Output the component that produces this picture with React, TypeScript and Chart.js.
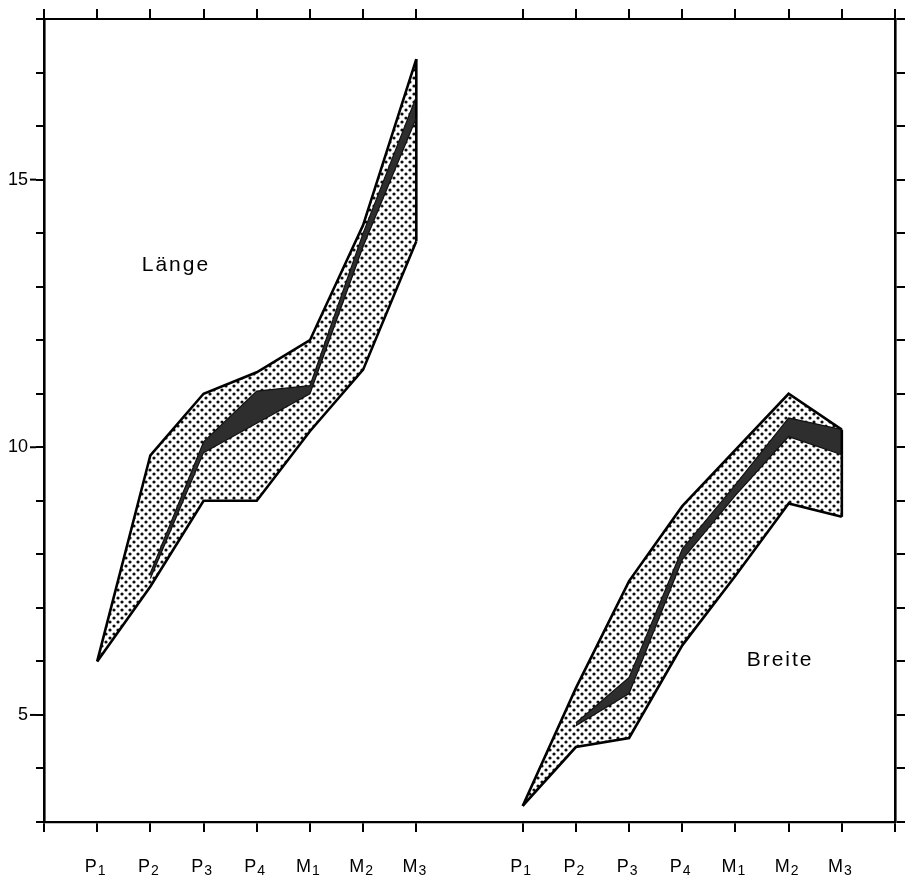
import React, { useEffect, useRef } from 'react';
import { Chart, registerables } from 'chart.js';

Chart.register(...registerables);

// ---- data ----
const categories = ['P1', 'P2', 'P3', 'P4', 'M1', 'M2', 'M3'];
const laengePos = [0, 1, 2, 3, 4, 5, 6];
const breitePos = [8, 9, 10, 11, 12, 13, 14];
const laengeMax = [6.0, 9.85, 11.0, 11.4, 12.0, 14.15, 17.25];
const laengeMin = [6.0, 7.4, 9.0, 9.0, 10.3, 11.45, 13.85];
const laengeMeanHigh = [null, 7.65, 10.1, 11.05, 11.15, 14.0, 16.55];
const laengeMeanLow = [null, 7.55, 9.9, 10.45, 11.0, 13.75, 16.15];
const breiteMax = [3.3, 5.5, 7.5, 8.9, 9.95, 11.0, 10.33];
const breiteMin = [3.3, 4.4, 4.57, 6.3, 7.6, 8.95, 8.7];
const breiteMeanHigh = [null, 4.85, 5.7, 8.1, 9.3, 10.55, 10.33];
const breiteMeanLow = [null, 4.8, 5.4, 7.9, 9.1, 10.2, 9.86];
const yTickLabels = [5, 10, 15];
const seriesLabels = ['Länge', 'Breite'];
const labelAnchors = [
  { x: 1.48, y: 13.4 },
  { x: 12.84, y: 6.03 },
];
const xMin = -1;
const xMax = 15;
const yMin = 3;
const yMax = 18;

const FONT = '"Liberation Sans", Arial, Helvetica, sans-serif';

function pts(pos: number[], vals: (number | null)[]) {
  const out: { x: number; y: number }[] = [];
  pos.forEach((p, i) => {
    const v = vals[i];
    if (v !== null && v !== undefined) out.push({ x: p, y: v });
  });
  return out;
}

function makeStipple(): CanvasPattern | string {
  const c = document.createElement('canvas');
  c.width = 8;
  c.height = 8;
  const g = c.getContext('2d');
  if (!g) return '#ccc';
  g.fillStyle = '#ffffff';
  g.fillRect(0, 0, 8, 8);
  g.fillStyle = '#0d0d0d';
  g.beginPath();
  g.arc(2, 2, 1.6, 0, Math.PI * 2);
  g.fill();
  g.beginPath();
  g.arc(6, 6, 1.6, 0, Math.PI * 2);
  g.fill();
  const p = g.createPattern(c, 'repeat');
  return p || '#ccc';
}

export default function App() {
  const ref = useRef<HTMLCanvasElement | null>(null);

  useEffect(() => {
    if (!ref.current) return;
    const stipple = makeStipple();
    const dark = '#2e2e2e';

    const lineBase = {
      pointRadius: 0,
      pointHoverRadius: 0,
      tension: 0,
    };

    const group = (
      pos: number[],
      mx: number[],
      mn: number[],
      mh: (number | null)[],
      ml: (number | null)[]
    ) => [
      {
        ...lineBase,
        data: pts(pos, mh),
        borderColor: '#111',
        borderWidth: 1.2,
        backgroundColor: dark,
        fill: '+1',
        order: 0,
      },
      {
        ...lineBase,
        data: pts(pos, ml),
        borderColor: '#111',
        borderWidth: 1.2,
        fill: false,
        order: 0,
      },
      {
        ...lineBase,
        data: pts(pos, mx),
        borderColor: '#000',
        borderWidth: 2.6,
        backgroundColor: stipple,
        fill: '+1',
        order: 1,
      },
      {
        ...lineBase,
        data: pts(pos, mn),
        borderColor: '#000',
        borderWidth: 2.6,
        fill: false,
        order: 1,
      },
      {
        ...lineBase,
        data: [
          { x: pos[pos.length - 1], y: mn[mn.length - 1] },
          { x: pos[pos.length - 1], y: mx[mx.length - 1] },
        ],
        borderColor: '#000',
        borderWidth: 2.6,
        fill: false,
        order: 1,
      },
    ];

    const datasets = [
      ...group(laengePos, laengeMax, laengeMin, laengeMeanHigh, laengeMeanLow),
      ...group(breitePos, breiteMax, breiteMin, breiteMeanHigh, breiteMeanLow),
    ];

    const xTickVals = [xMin, ...laengePos, ...breitePos, xMax];

    const gridOpts = {
      display: true,
      drawOnChartArea: false,
      drawTicks: true,
      tickLength: 10,
      color: '#000',
      tickWidth: 2,
      lineWidth: 2,
    };

    const annot = {
      id: 'annot',
      afterDraw(chart: any) {
        const { ctx, scales } = chart;
        const x = scales.x;
        const y = scales.y;
        ctx.save();
        ctx.fillStyle = '#000';
        ctx.textBaseline = 'alphabetic';
        // x category labels with subscripts
        [laengePos, breitePos].forEach((posArr) => {
          posArr.forEach((p, i) => {
            const cat = categories[i];
            const letter = cat[0];
            const sub = cat.slice(1);
            ctx.font = `18px ${FONT}`;
            const w1 = ctx.measureText(letter).width;
            ctx.font = `14px ${FONT}`;
            const w2 = ctx.measureText(sub).width;
            const cx = x.getPixelForValue(p) - 2;
            const left = cx - (w1 + 1 + w2) / 2;
            const base = x.top + 50;
            ctx.textAlign = 'left';
            ctx.font = `18px ${FONT}`;
            ctx.fillText(letter, left, base);
            ctx.font = `14px ${FONT}`;
            ctx.fillText(sub, left + w1 + 1, base + 3);
          });
        });
        // longer major ticks on the left axis
        ctx.strokeStyle = '#000';
        ctx.lineWidth = 2;
        yTickLabels.forEach((v) => {
          const py = y.getPixelForValue(v);
          ctx.beginPath();
          ctx.moveTo(y.right - 14, py);
          ctx.lineTo(y.right - 8, py);
          ctx.stroke();
        });
        // series labels
        ctx.font = `21px ${FONT}`;
        try {
          (ctx as any).letterSpacing = '2px';
        } catch (e) {
          /* ignore */
        }
        ctx.textAlign = 'center';
        ctx.textBaseline = 'middle';
        seriesLabels.forEach((t, i) => {
          const a = labelAnchors[i];
          ctx.fillText(t, x.getPixelForValue(a.x), y.getPixelForValue(a.y));
        });
        ctx.restore();
      },
    };

    const chart = new Chart(ref.current, {
      type: 'line',
      data: { datasets: datasets as any },
      plugins: [annot],
      options: {
        animation: false,
        responsive: false,
        maintainAspectRatio: false,
        devicePixelRatio: 1,
        layout: { padding: 0 },
        plugins: {
          legend: { display: false },
          tooltip: { enabled: false },
          filler: { propagate: false, drawTime: 'beforeDatasetsDraw' },
        },
        scales: {
          x: {
            type: 'linear',
            position: 'bottom',
            min: xMin,
            max: xMax,
            afterBuildTicks: (s: any) => {
              s.ticks = xTickVals.map((v) => ({ value: v }));
            },
            afterFit: (s: any) => {
              s.height = 56;
            },
            ticks: { display: false },
            grid: gridOpts as any,
            border: { display: true, color: '#000', width: 2.2 },
          },
          xTop: {
            type: 'linear',
            position: 'top',
            min: xMin,
            max: xMax,
            afterBuildTicks: (s: any) => {
              s.ticks = xTickVals.map((v) => ({ value: v }));
            },
            afterFit: (s: any) => {
              s.height = 19;
            },
            ticks: { display: false },
            grid: gridOpts as any,
            border: { display: true, color: '#000', width: 2 },
          },
          y: {
            type: 'linear',
            position: 'left',
            min: yMin,
            max: yMax,
            afterFit: (s: any) => {
              s.width = 44;
            },
            ticks: {
              stepSize: 1,
              autoSkip: false,
              color: '#000',
              padding: 8,
              font: { family: FONT, size: 18 },
              callback: (v: any) => (yTickLabels.includes(Number(v)) ? String(v) : ''),
            },
            grid: { ...gridOpts, tickLength: 8 } as any,
            border: { display: true, color: '#000', width: 2.6 },
          },
          yRight: {
            type: 'linear',
            position: 'right',
            min: yMin,
            max: yMax,
            afterFit: (s: any) => {
              s.width = 12;
            },
            ticks: { display: false, stepSize: 1, autoSkip: false },
            grid: { ...gridOpts, tickLength: 10 } as any,
            border: { display: true, color: '#000', width: 2.6 },
          },
        },
      } as any,
    });

    return () => {
      chart.destroy();
    };
  }, []);

  return (
    <div style={{ position: 'fixed', left: 0, top: 0, width: 907, height: 878, background: '#fff' }}>
      <canvas ref={ref} width={907} height={878} style={{ width: 907, height: 878 }} />
    </div>
  );
}
